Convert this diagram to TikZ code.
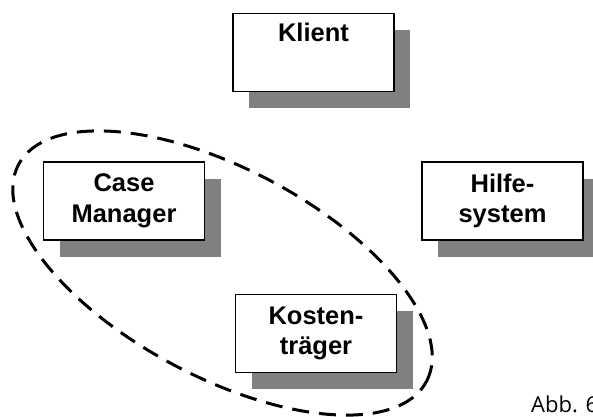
\documentclass[tikz,border=0pt]{standalone}
\usepackage{fontspec}
\setmainfont{Liberation Sans}
\newfontfamily\captionfont{Open Sans}
\usetikzlibrary{shadows}
\definecolor{shadowgray}{HTML}{808080}
\begin{document}
\begin{tikzpicture}[x=1pt,y=-1pt,
  role/.style={draw=black, line width=1.8pt, fill=white, rectangle,
    minimum width=161pt, minimum height=78pt, inner sep=0pt,
    align=center, font=\fontsize{25.5}{30.5}\selectfont\bfseries,
    drop shadow={shadow xshift=16pt, shadow yshift=-16.5pt,
      fill=shadowgray, opacity=1}},
  group/.style={draw=black, line width=3pt, dash pattern=on 17pt off 10pt}]
  \useasboundingbox (0,0) rectangle (593,416);
  % dashed grouping of case manager and funding body
  \draw[group] (222.5,273) ellipse [x radius=231pt, y radius=104pt, rotate=-28];
  % the four parties
  \node[role] (klient) at (313.5,52.5) {Klient\\\strut};
  \node[role] (cm) at (124,201) {Case\\Manager};
  \node[role] (hilfe) at (502.5,201) {Hilfe-\\system};
  \node[role] (kosten) at (316,333.5) {Kosten-\\träger};
  % figure caption, running off the right edge
  \node[anchor=base west, inner sep=0pt, font=\captionfont\fontsize{22}{26}\selectfont] (caption) at (531,412) {Abb. 6};
\end{tikzpicture}
\end{document}
